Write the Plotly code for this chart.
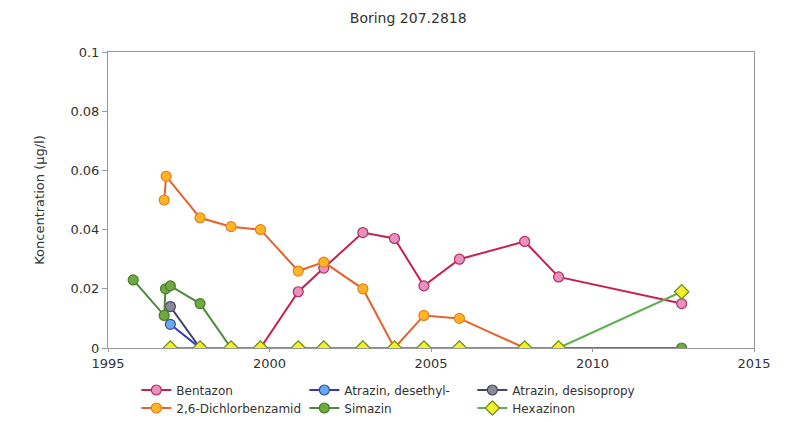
import plotly.graph_objects as go

title = "Boring 207.2818"
y_title = "Koncentration (µg/l)"

bentazon_x = [1999.72, 2000.89, 2001.68, 2002.89, 2003.87, 2004.78, 2005.88, 2007.90, 2008.95, 2012.76]
bentazon_y = [0.0, 0.019, 0.027, 0.039, 0.037, 0.021, 0.030, 0.036, 0.024, 0.015]

desethyl_x = [1996.93, 1997.85]
desethyl_y = [0.008, 0.0]

desisopropy_x = [1996.93, 1997.85]
desisopropy_y = [0.014, 0.0]

dichlor_x = [1996.74, 1996.80, 1997.85, 1998.81, 1999.72, 2000.89, 2001.68, 2002.89, 2003.87, 2004.78, 2005.88, 2007.90]
dichlor_y = [0.050, 0.058, 0.044, 0.041, 0.040, 0.026, 0.029, 0.020, 0.0, 0.011, 0.010, 0.0]

simazin_x = [1995.78, 1996.74, 1996.78, 1996.93, 1997.85, 1998.81, 1999.72, 2000.89, 2001.68, 2002.89, 2003.87,
             2004.78, 2005.88, 2007.90, 2008.95, 2012.76]
simazin_y = [0.023, 0.011, 0.020, 0.021, 0.015, 0.0, 0.0, 0.0, 0.0, 0.0, 0.0, 0.0, 0.0, 0.0, 0.0, 0.0]

hexazinon_x = [1996.93, 1997.85, 1998.81, 1999.72, 2000.89, 2001.68, 2002.89, 2003.87, 2004.78, 2005.88,
               2007.90, 2008.95, 2012.76]
hexazinon_y = [0.0, 0.0, 0.0, 0.0, 0.0, 0.0, 0.0, 0.0, 0.0, 0.0, 0.0, 0.0, 0.019]

FONT = "DejaVu Sans"

series = [
    ("Bentazon", bentazon_x, bentazon_y, "#C8204E", "#E890C0", "#B0305A", "circle", "legend"),
    ("Atrazin, desethyl-", desethyl_x, desethyl_y, "#3535C0", "#6AA8F0", "#3050A0", "circle", "legend"),
    ("Atrazin, desisopropy", desisopropy_x, desisopropy_y, "#454565", "#8A8A98", "#454560", "circle", "legend"),
    ("2,6-Dichlorbenzamid", dichlor_x, dichlor_y, "#E8602C", "#FFB526", "#E08020", "circle", "legend2"),
    ("Simazin", simazin_x, simazin_y, "#4E8A3C", "#6EAA3E", "#4A7A30", "circle", "legend2"),
    ("Hexazinon", hexazinon_x, hexazinon_y, "#5DB04E", "#F2F028", "#6A8A20", "diamond", "legend2"),
]

fig = go.Figure()
for name, xs, ys, lc, mc, oc, sym, lg in series:
    fig.add_trace(go.Scatter(
        x=xs, y=ys, name=name, mode="lines+markers",
        line=dict(color=lc, width=2),
        marker=dict(color=mc, size=10 if sym == "circle" else 11, symbol=sym,
                    line=dict(color=oc, width=1.2)),
        legend=lg,
    ))

legend_common = dict(
    orientation="h", xanchor="left", yanchor="middle",
    xref="container", yref="container",
    font=dict(family=FONT, size=12, color="#333"),
    entrywidth=123, entrywidthmode="pixels", itemwidth=30,
    bgcolor="rgba(0,0,0,0)", traceorder="normal",
)

fig.update_layout(
    width=802, height=422,
    margin=dict(l=108, r=48, t=52, b=74, autoexpand=False),
    paper_bgcolor="white", plot_bgcolor="white",
    title=dict(text=title, x=0.509, xanchor="center", y=1 - 18 / 422, yanchor="middle",
               xref="container", yref="container",
               font=dict(family=FONT, size=14, color="#333")),
    font=dict(family=FONT, size=13, color="#333"),
    showlegend=True,
    legend=dict(x=0.170, y=1 - 390 / 422, **legend_common),
    legend2=dict(x=0.170, y=1 - 408 / 422, **legend_common),
    xaxis=dict(range=[1995, 2015], dtick=5, tick0=1995, showgrid=False, zeroline=False,
               showline=True, linecolor="#999", linewidth=1, mirror=True, automargin=False,
               ticks="outside", ticklen=3, tickcolor="#999",
               tickfont=dict(family=FONT, size=13, color="#333")),
    yaxis=dict(range=[0, 0.1], dtick=0.02, tick0=0, showgrid=False, zeroline=False,
               showline=True, linecolor="#999", linewidth=1, mirror=True, automargin=False,
               ticks="outside", ticklen=5, tickcolor="#999",
               tickfont=dict(family=FONT, size=13, color="#333"),
               title=dict(text=y_title, font=dict(family=FONT, size=13, color="#333"), standoff=22)),
)

fig.write_html("out.html",
               config={"displayModeBar": False},
               post_script="document.body.style.margin='0';document.body.style.overflow='hidden';")
